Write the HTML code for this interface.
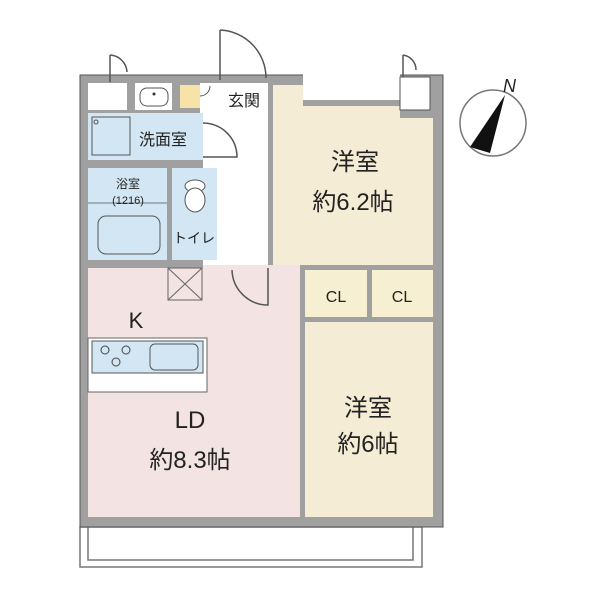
<!DOCTYPE html>
<html><head><meta charset="utf-8"><style>
body{margin:0;background:#fff}
svg{display:block}
text{font-family:"Liberation Sans","Noto Sans CJK JP",sans-serif;fill:#222}
</style></head><body>
<svg width="600" height="600" viewBox="0 0 600 600" xmlns="http://www.w3.org/2000/svg">
<!-- balcony -->
<rect x="80" y="527" width="342" height="40" fill="#fff" stroke="#777" stroke-width="1.5"/>
<polyline points="88,527 88,560 413,560 413,527" fill="none" stroke="#777" stroke-width="1.5"/>
<!-- outer wall mass -->
<rect x="80" y="75" width="363" height="452" fill="#a0a0a0" stroke="#555" stroke-width="1"/>
<!-- cut top-right region outside (above room 1 notch) -->
<rect x="303" y="74" width="97" height="26" fill="#fff"/>
<!-- rooms -->
<rect x="88" y="83" width="39" height="27" fill="#fff"/>
<rect x="135" y="83" width="37" height="27" fill="#fff"/>
<rect x="180" y="85" width="20" height="23" fill="#f7e2a8"/>
<rect x="200" y="83" width="68" height="30" fill="#fff"/>
<rect x="88" y="113" width="115" height="47" fill="#d3e6f3"/>
<rect x="203" y="113" width="65" height="155" fill="#fff"/>
<rect x="88" y="168" width="79" height="92" fill="#d3e6f3"/>
<rect x="172" y="168" width="45" height="92" fill="#d3e6f3"/>
<!-- LD -->
<polygon points="88,268 203,268 203,265 300,265 300,517 88,517" fill="#f3e3e3"/>
<!-- room 1 -->
<polygon points="273,85 303,85 303,106 400,106 400,118 433,118 433,265 273,265" fill="#f4ecd4"/>
<!-- CL -->
<rect x="305" y="270" width="62" height="47" fill="#f6efd2"/>
<rect x="372" y="270" width="61" height="47" fill="#f6efd2"/>
<!-- room 2 -->
<rect x="305" y="322" width="128" height="195" fill="#f4ecd4"/>
<!-- top-right closet -->
<rect x="400" y="77" width="30" height="33" fill="#fff" stroke="#555"/>
<!-- fixtures -->
<rect x="140" y="88" width="28" height="18" rx="7" fill="#fff" stroke="#555"/>
<circle cx="154" cy="94" r="1.5" fill="#333"/>
<rect x="92" y="117" width="38" height="38" fill="#d3e6f3" stroke="#555"/>
<circle cx="96" cy="122" r="2" fill="none" stroke="#555"/>
<rect x="98" y="216" width="62" height="38" rx="8" fill="#d3e6f3" stroke="#555"/>
<line x1="88" y1="203" x2="167" y2="203" stroke="#777"/>
<ellipse cx="195" cy="186" rx="10" ry="6" fill="#fff" stroke="#555"/>
<ellipse cx="195" cy="200" rx="10" ry="12" fill="#fff" stroke="#555"/>
<!-- kitchen -->
<rect x="88" y="338" width="119" height="54" fill="#fff" stroke="#666"/>
<rect x="92" y="341" width="111" height="32" fill="#d3e6f3" stroke="#555"/>
<circle cx="105" cy="350" r="4" fill="none" stroke="#444"/>
<circle cx="126" cy="350" r="4" fill="none" stroke="#444"/>
<circle cx="116" cy="362" r="4" fill="none" stroke="#444"/>
<rect x="150" y="344" width="48" height="26" rx="5" fill="#d3e6f3" stroke="#555"/>
<!-- PS box -->
<rect x="168" y="268" width="34" height="32" fill="none" stroke="#666"/>
<line x1="168" y1="268" x2="202" y2="300" stroke="#666"/><line x1="202" y1="268" x2="168" y2="300" stroke="#666"/>
<!-- doors -->
<path d="M220,30 L220,80 M220,30 A48,48 0 0 1 266,78" fill="none" stroke="#555" stroke-width="1.5"/>
<path d="M110,55 L110,82 M110,55 A18,18 0 0 1 127,72" fill="none" stroke="#555" stroke-width="1.5"/>
<path d="M403,55 L403,77 M403,55 A15,15 0 0 1 416,70" fill="none" stroke="#555" stroke-width="1.5"/>
<path d="M203,123 A34,34 0 0 1 237,157 L203,157" fill="none" stroke="#555" stroke-width="1.5"/>
<path d="M268,268 L268,305 A36,36 0 0 1 232,270" fill="none" stroke="#555" stroke-width="1.5"/>
<path d="M200,96 A10,10 0 0 0 210,86" fill="none" stroke="#555"/>
<!-- compass -->
<circle cx="493" cy="123" r="33" fill="#fff" stroke="#777" stroke-width="1.5"/>
<polygon points="505,95 470,147 490,153" fill="#111"/>
<text x="503" y="92" font-size="18" font-style="italic">N</text>
<!-- labels -->
<text x="244" y="106" font-size="16" text-anchor="middle">玄関</text>
<text x="163" y="145" font-size="16" text-anchor="middle">洗面室</text>
<text x="128" y="188" font-size="12" text-anchor="middle">浴室</text>
<text x="128" y="204" font-size="11" text-anchor="middle">(1216)</text>
<text x="194" y="243" font-size="14" text-anchor="middle">トイレ</text>
<text x="355" y="170" font-size="24" text-anchor="middle">洋室</text>
<text x="353" y="210" font-size="24" text-anchor="middle">約6.2帖</text>
<text x="336" y="302" font-size="16" text-anchor="middle">CL</text>
<text x="402" y="302" font-size="16" text-anchor="middle">CL</text>
<text x="136" y="328" font-size="22" text-anchor="middle">K</text>
<text x="190" y="428" font-size="24" text-anchor="middle">LD</text>
<text x="190" y="468" font-size="24" text-anchor="middle">約8.3帖</text>
<text x="368" y="416" font-size="24" text-anchor="middle">洋室</text>
<text x="368" y="452" font-size="24" text-anchor="middle">約6帖</text>
</svg>
</body></html>
